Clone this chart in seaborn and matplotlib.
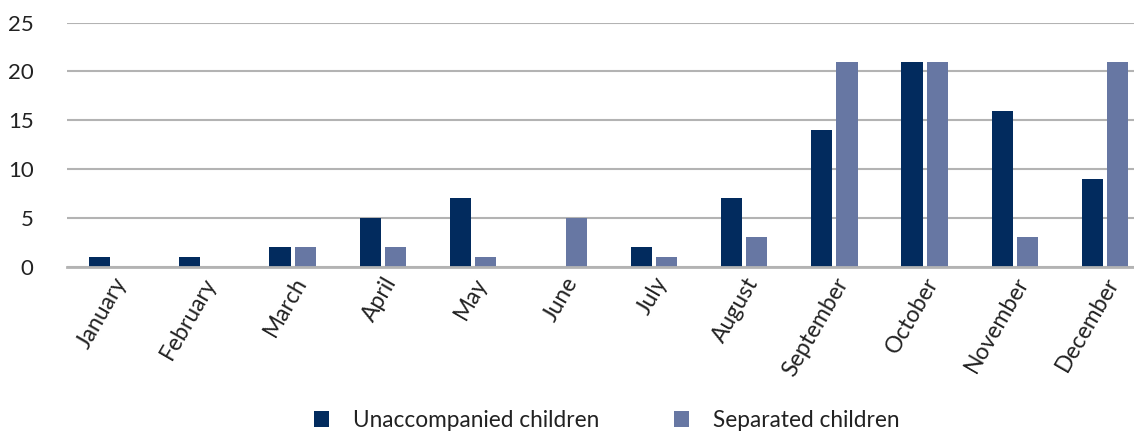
import matplotlib
matplotlib.use("Agg")
import matplotlib.pyplot as plt
import seaborn as sns
import pandas as pd
from matplotlib.patches import Patch

months = ["January", "February", "March", "April", "May", "June", "July",
          "August", "September", "October", "November", "December"]
unaccompanied = [1, 1, 2, 5, 7, 0, 2, 7, 14, 21, 16, 9]
separated = [0, 0, 2, 2, 1, 5, 1, 3, 21, 21, 3, 21]
series_names = ["Unaccompanied children", "Separated children"]
colors = ["#022b5e", "#6777a3"]
yticks = [0, 5, 10, 15, 20, 25]

df = pd.DataFrame({
    "month": months * 2,
    "value": unaccompanied + separated,
    "series": [series_names[0]] * len(months) + [series_names[1]] * len(months),
})

sns.set_theme(style="white")
plt.rcParams["font.family"] = ["Lato", "DejaVu Sans"]

fig = plt.figure(figsize=(11.34, 4.36), dpi=100)
ax = fig.add_axes([67 / 1134, 1 - 266.7 / 436, (1134 - 67) / 1134, (266.7 - 22.7) / 436])

sns.barplot(data=df, x="month", y="value", hue="series", order=months,
            hue_order=series_names, palette=colors, width=0.56, ax=ax,
            legend=False, saturation=1, linewidth=0)

# shrink bars slightly to create a small gap between paired bars
for p in ax.patches:
    w = p.get_width()
    d = w * 0.08
    p.set_x(p.get_x() + d)
    p.set_width(w - 2 * d)

ax.set_ylim(0, 25)
ax.set_yticks(yticks)
ax.set_xlim(-0.5, 11.32)
ax.yaxis.grid(True, color="#b3b3b3", linewidth=1.5)
ax.set_axisbelow(True)
for s in ["top", "right", "left"]:
    ax.spines[s].set_visible(False)
ax.spines["bottom"].set_color("#b3b3b3")
ax.spines["bottom"].set_linewidth(2)
ax.tick_params(axis="y", length=0, pad=24, labelsize=16, labelcolor="#222222")
ax.tick_params(axis="x", length=0, pad=5, labelsize=16.5, labelcolor="#222222")
for lbl in ax.get_xticklabels():
    lbl.set_rotation(60)
    lbl.set_ha("right")
    lbl.set_rotation_mode("anchor")
ax.set_xlabel("")
ax.set_ylabel("")

handles = [Patch(facecolor=c, edgecolor="none") for c in colors]
fig.legend(handles, series_names, loc="lower center", bbox_to_anchor=(0.535, -0.035),
           ncol=2, frameon=False, fontsize=16.3, handlelength=0.66, handleheight=0.66,
           handletextpad=1.05, columnspacing=3.3, labelcolor="#222222")

fig.savefig("out.png", dpi=100)
